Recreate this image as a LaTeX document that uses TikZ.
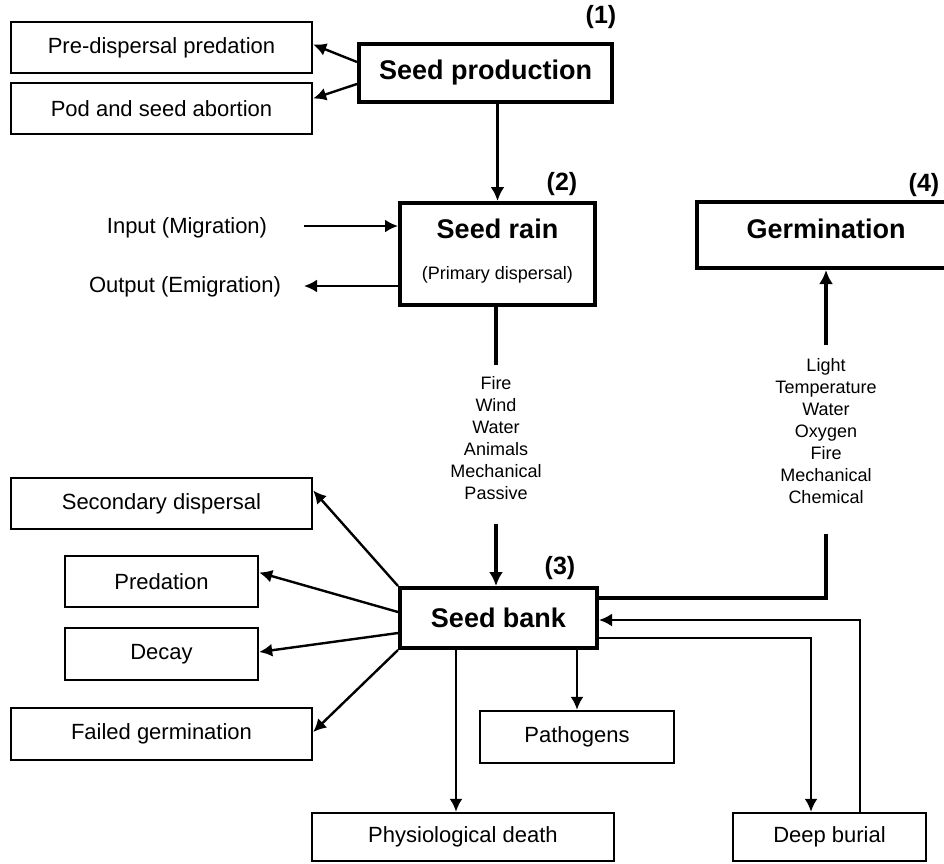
\documentclass[tikz,border=0pt]{standalone}
\usepackage{fontspec}
\setmainfont{Liberation Sans}
\usetikzlibrary{arrows.meta,calc}
\begin{document}
\begin{tikzpicture}[x=1pt,y=-1pt,
  box/.style={draw,line width=2.4pt,inner sep=0pt,font=\fontsize{22}{26}\selectfont},
  mainbox/.style={draw,line width=4pt,inner sep=0pt,font=\fontsize{27}{32}\selectfont\bfseries},
  titletext/.style={inner sep=0pt,font=\fontsize{27}{32}\selectfont\bfseries},
  subtext/.style={inner sep=0pt,font=\fontsize{18}{22}\selectfont},
  lbl/.style={inner sep=0pt,font=\fontsize{22}{26}\selectfont},
  num/.style={inner sep=0pt,font=\fontsize{25}{30}\selectfont\bfseries},
  lst/.style={inner sep=0pt,align=center,font=\fontsize{18}{22}\selectfont},
  arr/.style={-{Latex[length=13pt,width=13pt]},line width=2.4pt},
  tarr/.style={-{Latex[length=14pt,width=14pt]},line width=3.4pt},
  ln/.style={line width=2.4pt},
  tln/.style={line width=3.4pt}]
\useasboundingbox (0,0) rectangle (944,863);
\fill[white] (0,0) rectangle (944,863);
\clip (0,0) rectangle (944,863);

% boxes
\node[box,minimum width=301pt,minimum height=51pt] (pdp) at (161.5,47.5) {Pre-dispersal predation};
\node[box,minimum width=301pt,minimum height=51pt] (psa) at (161.5,108.5) {Pod and seed abortion};
\node[mainbox,minimum width=253pt,minimum height=58pt] (sp) at (485.5,73) {Seed production};
\node[mainbox,minimum width=195pt,minimum height=102pt] (sr) at (497.5,254) {};
\node[titletext] (srt) at (497.5,229) {Seed rain};
\node[subtext] (srs) at (497.5,275) {(Primary dispersal)};
\node[mainbox,minimum width=258pt,minimum height=66pt] (germ) at (826,235) {};
\node[titletext] (germt) at (826,229) {Germination};
\node[mainbox,minimum width=197pt,minimum height=60pt] (sb) at (498.5,618) {Seed bank};
\node[box,minimum width=301pt,minimum height=51pt] (sd) at (161.5,503.5) {Secondary dispersal};
\node[box,minimum width=193pt,minimum height=51pt] (pred) at (161.5,581.5) {Predation};
\node[box,minimum width=193pt,minimum height=52pt] (decay) at (161.5,654) {Decay};
\node[box,minimum width=301pt,minimum height=52pt] (fg) at (161.5,734) {Failed germination};
\node[box,minimum width=194pt,minimum height=52pt] (path) at (577,737) {Pathogens};
\node[box,minimum width=302pt,minimum height=48pt] (pd) at (463,837) {Physiological death};
\node[box,minimum width=193pt,minimum height=48pt] (db) at (829.5,837) {Deep burial};

% numbers
\node[num] (n1) at (601,17) {(1)};
\node[num] (n2) at (562,184) {(2)};
\node[num] (n3) at (560,568) {(3)};
\node[num] (n4) at (924,185) {(4)};

% side labels
\node[lbl] (inT) at (187,228) {Input (Migration)};
\node[lbl] (outT) at (185,287) {Output (Emigration)};
\coordinate (inS) at (304,226);
\coordinate (outE) at (304,286);

% lists
\node[lst,anchor=north] (l1) at (496,376) {Fire\\Wind\\Water\\Animals\\Mechanical\\Passive};
\node[lst,anchor=north] (l2) at (826,358) {Light\\Temperature\\Water\\Oxygen\\Fire\\Mechanical\\Chemical};

% connectors
\draw[arr] ($(sp.west)+(0,-11)$) -- ($(pdp.east)+(0,-3)$);
\draw[arr] ($(sp.west)+(0,11)$) -- ($(psa.east)+(0,-10)$);
\draw[tarr] (sr.north |- sp.south) -- (sr.north);
\draw[arr] (inS) -- (inS -| sr.west);
\draw[arr] (outE -| sr.west) -- (outE);
\draw[tln] (l1.north |- sr.south) -- ($(l1.north)+(0,-11)$);
\draw[tarr] ($(l1.south)+(0,24)$) -- (l1.south |- sb.north);
\draw[tarr] ($(l2.north)+(0,-13)$) -- (l2.north |- germ.south);
\draw[tln] ($(l2.south)+(0,30)$) |- ($(sb.east)+(0,-20)$);
\draw[arr] ($(db.north)+(30.5,0)$) |- ($(sb.east)+(0,2)$);
\draw[arr] ($(sb.east)+(0,20)$) -| ($(db.north)+(-18.5,0)$);
\draw[arr] ($(sb.south)+(-42.5,0)$) -- ($(pd.north)+(-7,0)$);
\draw[arr] (path.north |- sb.south) -- (path.north);
\draw[arr] (sb.north west) -- ($(sd.east)+(0,-13)$);
\draw[arr] ($(sb.west)+(0,-6)$) -- ($(pred.east)+(0,-9)$);
\draw[arr] ($(sb.west)+(0,15)$) -- ($(decay.east)+(0,-2)$);
\draw[arr] (sb.south west) -- ($(fg.east)+(0,-2)$);
\end{tikzpicture}
\end{document}
